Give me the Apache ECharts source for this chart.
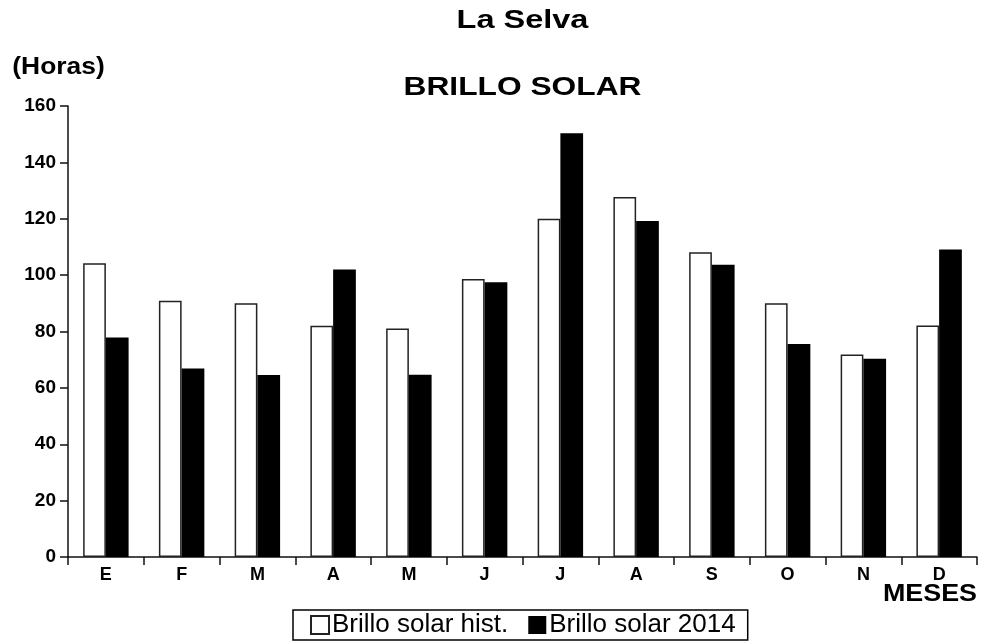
<!DOCTYPE html>
<html>
<head>
<meta charset="utf-8">
<script src="https://cdn.jsdelivr.net/npm/echarts@6/dist/echarts.min.js"></script>
<style>
html,body{margin:0;padding:0;background:#fff;}
#chart{width:982px;height:642px;}
</style>
</head>
<body>
<div id="chart"></div>
<script>
const months = ['E','F','M','A','M','J','J','A','S','O','N','D'];
const histValues = [104.2, 90.9, 90.0, 82.0, 81.1, 98.6, 120.0, 127.7, 108.1, 90.0, 71.8, 82.1];
const values2014 = [77.9, 66.9, 64.6, 102.0, 64.7, 97.5, 150.3, 119.2, 103.7, 75.6, 70.3, 109.1];
const seriesNames = ['Brillo solar hist.', 'Brillo solar 2014'];
const yTicks = {min: 0, max: 160, interval: 20};

const chart = echarts.init(document.getElementById('chart'));
const boldFont = 'bold 26px "Liberation Sans", Arial, sans-serif';
chart.setOption({
  backgroundColor: '#fff',
  animation: false,
  graphic: [
    {type:'text', x:522.5, y:20.5, scaleX:1.25, style:{text:'La Selva', font:boldFont, fill:'#000', align:'center', verticalAlign:'middle'}},
    {type:'text', x:522.5, y:87.5, scaleX:1.22, style:{text:'BRILLO SOLAR', font:boldFont, fill:'#000', align:'center', verticalAlign:'middle'}},
    {type:'text', x:58.5, y:67, scaleX:1.1, style:{text:'(Horas)', font:'bold 24px "Liberation Sans", Arial, sans-serif', fill:'#000', align:'center', verticalAlign:'middle'}},
    {type:'text', x:977, y:594, scaleX:1.12, style:{text:'MESES', font:'bold 24px "Liberation Sans", Arial, sans-serif', fill:'#000', align:'right', verticalAlign:'middle'}}
  ],
  legend: {
    left: 293, top: 610,
    padding: [2, 12, 2, 17],
    borderColor: '#000', borderWidth: 1.5,
    itemWidth: 18, itemHeight: 18, itemGap: 20,
    icon: 'rect',
    textStyle: {fontFamily:'"Liberation Sans", Arial, sans-serif', fontSize: 26, color:'#000', padding:[0,0,0,-2]},
    data: seriesNames
  },
  grid: {left: 68, right: 5, top: 106, bottom: 85},
  xAxis: {
    type: 'category',
    data: months,
    axisLine: {show:true, lineStyle:{color:'#111', width:1.5}},
    axisTick: {show:true, length:8, alignWithLabel:false, lineStyle:{color:'#111', width:1.5}},
    axisLabel: {color:'#000', fontWeight:'bold', fontSize:18, fontFamily:'"Liberation Sans", Arial, sans-serif', margin:9},
    splitLine: {show:false}
  },
  yAxis: {
    type: 'value',
    min: yTicks.min, max: yTicks.max, interval: yTicks.interval,
    axisLine: {show:true, lineStyle:{color:'#111', width:1.5}},
    axisTick: {show:true, length:8, lineStyle:{color:'#111', width:1.5}},
    axisLabel: {color:'#000', fontWeight:'bold', fontSize:19, fontFamily:'"Liberation Sans", Arial, sans-serif', margin:12},
    splitLine: {show:false}
  },
  series: [
    {
      name: seriesNames[0], type: 'bar', data: histValues,
      barGap: '0%', barCategoryGap: '40%',
      itemStyle: {color:'#fff', borderColor:'#222', borderWidth:1.5}
    },
    {
      name: seriesNames[1], type: 'bar', data: values2014,
      barGap: '0%', barCategoryGap: '40%',
      itemStyle: {color:'#000', borderColor:'#000', borderWidth:0}
    }
  ]
});
</script>
</body>
</html>
